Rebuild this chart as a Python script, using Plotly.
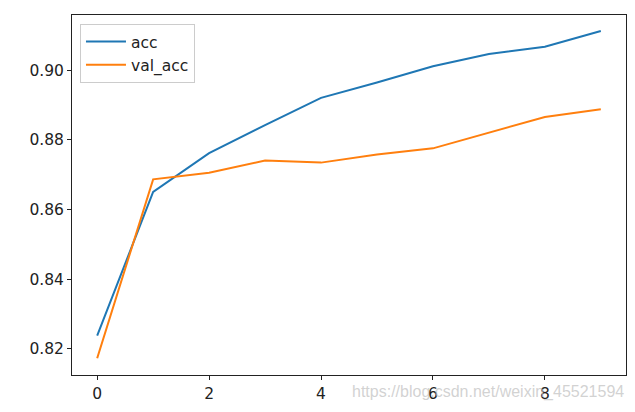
import plotly.graph_objects as go

epochs = [0, 1, 2, 3, 4, 5, 6, 7, 8, 9]
acc = [0.8238, 0.8651, 0.8762, 0.8843, 0.8921, 0.8965, 0.9012, 0.9047, 0.9068, 0.9113]
val_acc = [0.8173, 0.8687, 0.8706, 0.8741, 0.8735, 0.8758, 0.8776, 0.8821, 0.8866, 0.8888]
series_names = ["acc", "val_acc"]
y_ticks = [0.82, 0.84, 0.86, 0.88, 0.90]
x_ticks = [0, 2, 4, 6, 8]
watermark = "https://blog.csdn.net/weixin_45521594"

FONT = "DejaVu Sans"
FS = 15.5
fig = go.Figure()
fig.add_trace(go.Scatter(x=epochs, y=acc, mode="lines", name=series_names[0],
                         line=dict(color="#1f77b4", width=2)))
fig.add_trace(go.Scatter(x=epochs, y=val_acc, mode="lines", name=series_names[1],
                         line=dict(color="#ff7f0e", width=2)))

axis_common = dict(showline=True, mirror=True, linecolor="#222222", linewidth=1,
                   ticks="outside", ticklen=4, tickwidth=1, tickcolor="#222222",
                   showgrid=False, zeroline=False,
                   tickfont=dict(family=FONT, size=FS, color="#222222"))
fig.update_xaxes(range=[-0.45, 9.45], tickvals=x_ticks, **axis_common)
fig.update_yaxes(range=[0.8125, 0.9159], tickvals=y_ticks,
                 ticktext=[f"{v:.2f}" for v in y_ticks], **axis_common)

fig.update_layout(
    width=635, height=412,
    margin=dict(l=72, r=9, t=15, b=37),
    paper_bgcolor="white", plot_bgcolor="white",
    font=dict(family=FONT, size=FS, color="#222222"),
    showlegend=True,
    legend=dict(x=0.0144, y=0.975, xanchor="left", yanchor="top",
                bgcolor="rgba(255,255,255,0.8)", bordercolor="#cccccc", borderwidth=1,
                font=dict(family=FONT, size=FS, color="#222222"),
                tracegroupgap=0, itemwidth=40),
    annotations=[dict(text=watermark, xref="paper", yref="paper", x=1.0, y=-0.047,
                      xanchor="right", yanchor="middle", showarrow=False,
                      font=dict(family="Liberation Sans", size=16, color="rgba(190,190,190,0.7)"))],
)

fig.write_html("out.html")
